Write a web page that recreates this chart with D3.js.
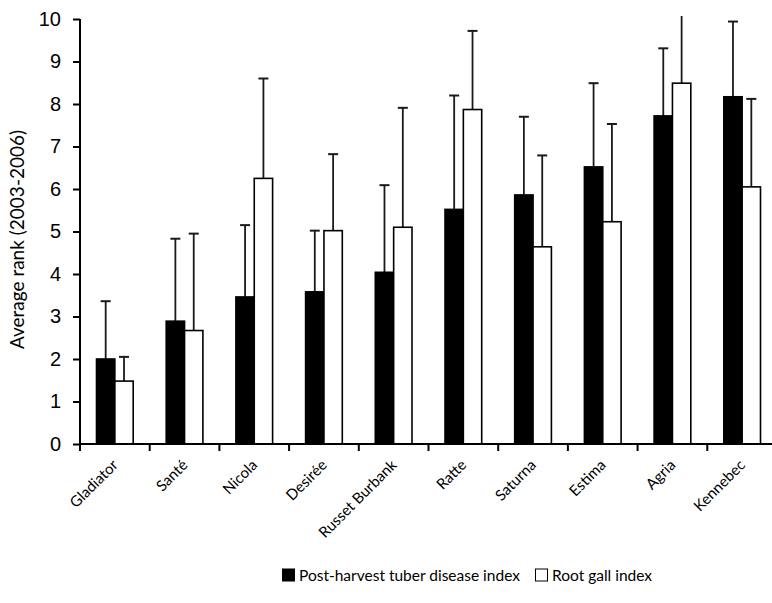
<!DOCTYPE html>
<html>
<head>
<meta charset="utf-8">
<script src="https://cdn.jsdelivr.net/npm/d3@7"></script>
<style>
  body { margin: 0; background: #fff; }
  svg { font-family: Lato, "Open Sans", sans-serif; }
</style>
</head>
<body>
<svg id="chart"></svg>
<script>
const cultivars = ["Gladiator", "Santé", "Nicola", "Desirée", "Russet Burbank", "Ratte", "Saturna", "Estima", "Agria", "Kennebec"];
const seriesNames = ["Post-harvest tuber disease index", "Root gall index"];
const tuberMean = [2.0, 2.89, 3.46, 3.58, 4.04, 5.52, 5.86, 6.52, 7.72, 8.17];
const tuberUpper = [3.36, 4.83, 5.15, 5.02, 6.09, 8.2, 7.7, 8.49, 9.31, 9.94];
const gallMean = [1.48, 2.67, 6.25, 5.02, 5.1, 7.87, 4.64, 5.23, 8.49, 6.05];
const gallUpper = [2.05, 4.95, 8.6, 6.82, 7.91, 9.72, 6.79, 7.53, 10.6, 8.12];
const yTicks = [0, 1, 2, 3, 4, 5, 6, 7, 8, 9, 10];

const width = 772, height = 603;
const svg = d3.select("#chart").attr("width", width).attr("height", height);

const x = d3.scaleBand().domain(cultivars).range([80, 777]);
const bw = x.bandwidth();
const x1 = d3.scaleBand().domain(seriesNames).range([16.5, bw - 16.5]);
const y = d3.scaleLinear().domain([0, 10]).range([444, 19]);

const rows = cultivars.map((c, i) => ({
  c,
  vals: [
    {s: seriesNames[0], v: tuberMean[i], up: tuberUpper[i], fill: "#000"},
    {s: seriesNames[1], v: gallMean[i], up: gallUpper[i], fill: "#fff"}
  ]
}));

svg.append("defs").append("clipPath").attr("id", "plot")
  .append("rect").attr("x", 80).attr("y", 16).attr("width", 700).attr("height", 430);

const groups = svg.append("g").attr("clip-path", "url(#plot)")
  .selectAll("g").data(rows).join("g")
  .attr("transform", d => `translate(${x(d.c)},0)`);

// error bars, upper side only
groups.selectAll("g.err").data(d => d.vals).join("g").attr("class", "err")
  .each(function(d) {
    const g = d3.select(this);
    const cx = x1(d.s) + x1.bandwidth() / 2;
    g.append("line").attr("x1", cx).attr("x2", cx)
      .attr("y1", y(d.v)).attr("y2", y(d.up))
      .attr("stroke", "#1a1a1a").attr("stroke-width", 1.8);
    g.append("line").attr("x1", cx - 5).attr("x2", cx + 5)
      .attr("y1", y(d.up)).attr("y2", y(d.up))
      .attr("stroke", "#1a1a1a").attr("stroke-width", 2);
  });

groups.selectAll("rect").data(d => d.vals).join("rect")
  .attr("x", d => x1(d.s))
  .attr("y", d => y(d.v))
  .attr("width", x1.bandwidth())
  .attr("height", d => y(0) - y(d.v))
  .attr("fill", d => d.fill)
  .attr("stroke", "#000")
  .attr("stroke-width", 1.6);

// y axis
const yAxis = svg.append("g").attr("transform", "translate(80,0)")
  .call(d3.axisLeft(y).tickValues(yTicks).tickSize(7).tickPadding(12));
yAxis.select(".domain").attr("stroke", "#000").attr("stroke-width", 2)
  .attr("d", `M0,${y(10)}V${y(0)}`);
yAxis.selectAll(".tick line").attr("stroke-width", 2);
yAxis.selectAll("text").attr("font-size", 20).attr("fill", "#000");

// x axis line, ticks between categories
svg.append("line").attr("x1", 79).attr("x2", 777)
  .attr("y1", y(0)).attr("y2", y(0))
  .attr("stroke", "#000").attr("stroke-width", 2);
svg.append("g").selectAll("line")
  .data(cultivars.map(c => x(c)).concat([x.range()[1]]))
  .join("line")
  .attr("x1", d => d).attr("x2", d => d)
  .attr("y1", y(0)).attr("y2", y(0) + 7)
  .attr("stroke", "#000").attr("stroke-width", 2);

// category labels
svg.append("g").selectAll("text").data(cultivars).join("text")
  .attr("transform", d => `translate(${x(d) + bw / 2 + 4},${y(0) + 22}) rotate(-45)`)
  .attr("text-anchor", "end")
  .attr("font-size", 15)
  .attr("fill", "#000")
  .text(d => d);

// y title
svg.append("text")
  .attr("transform", `translate(24,${(y(0) + y(10)) / 2 + 8}) rotate(-90)`)
  .attr("text-anchor", "middle")
  .attr("font-size", 19)
  .attr("fill", "#000")
  .text("Average rank (2003-2006)");

// legend
const legend = svg.append("g").attr("transform", "translate(282,568)");
const items = [
  {name: seriesNames[0], fill: "#000", dx: 0},
  {name: seriesNames[1], fill: "#fff", dx: 253}
];
const li = legend.selectAll("g").data(items).join("g")
  .attr("transform", d => `translate(${d.dx},0)`);
li.append("rect").attr("x", 0.5).attr("y", 1).attr("width", 12).attr("height", 12)
  .attr("fill", d => d.fill).attr("stroke", "#000").attr("stroke-width", 1);
li.append("text").attr("x", 17).attr("y", 13)
  .attr("font-size", 15.5).attr("fill", "#000")
  .text(d => d.name);
</script>
</body>
</html>
